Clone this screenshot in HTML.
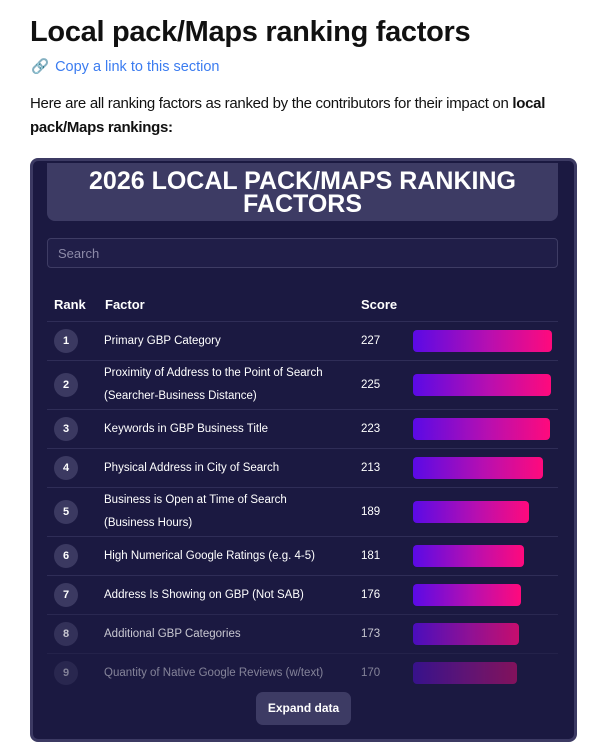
<!DOCTYPE html>
<html><head><meta charset="utf-8">
<style>
*{box-sizing:border-box;margin:0;padding:0}
body{width:600px;height:749px;background:#fff;font-family:"Liberation Sans",sans-serif;position:relative;overflow:hidden}
h1{position:absolute;left:30px;top:16px;font-size:29px;font-weight:bold;color:#111;letter-spacing:-0.3px}
.link{position:absolute;left:31px;top:58px;font-size:14.5px;color:#3b7cf0}
.link span{color:#b9a9c9;margin-right:6px}
.para{position:absolute;left:30px;top:92px;width:548px;font-size:15px;line-height:24px;color:#111;letter-spacing:-0.3px}
.card{position:absolute;left:30px;top:158px;width:547px;height:584px;background:#1b1941;border:3px solid #3c3a63;border-radius:8px}
.hdr{position:absolute;left:14px;top:2px;width:511px;height:58px;background:#3d3b64;border-radius:0 0 8px 8px;color:#fff;font-weight:bold;font-size:25px;line-height:23px;text-align:center;padding-top:7px;letter-spacing:0px}
.search{position:absolute;left:14px;top:77px;width:511px;height:30px;border:1px solid #3e3c64;border-radius:4px;background:#201e48;color:#8c8aa8;font-size:13px;padding:7px 10px}
.th{position:absolute;top:136px;color:#fff;font-weight:bold;font-size:13px}
#rows{position:absolute;left:14px;top:160px;width:511px}
.row{display:flex;align-items:center;min-height:39px;border-top:1px solid #2f2d57;color:#fff;font-size:11.5px;line-height:23px;position:relative}
.rk{position:absolute;left:7px;width:24px;height:24px;border-radius:50%;background:#3b3961;text-align:center;line-height:24px;font-weight:bold;font-size:11px}
.fc{margin-left:57px;width:235px;padding:1px 0}
.sc{position:absolute;left:314px}
.bar{position:absolute;left:366px;height:22px;border-radius:4px;background:linear-gradient(90deg,#5a0ae6,#b80fb0 55%,#ff0a7c)}
.btn{position:absolute;left:223px;top:531px;width:95px;height:33px;background:#3d3b64;border-radius:7px;color:#fff;font-weight:bold;font-size:12px;text-align:center;line-height:33px}
</style></head><body>
<h1>Local pack/Maps ranking factors</h1>
<div class="link"><span>🔗</span>Copy a link to this section</div>
<div class="para">Here are all ranking factors as ranked by the contributors for their impact on <b>local pack/Maps rankings:</b></div>
<div class="card">
<div class="hdr">2026 LOCAL PACK/MAPS RANKING<br>FACTORS</div>
<div class="search">Search</div>
<div class="th" style="left:21px">Rank</div>
<div class="th" style="left:72px">Factor</div>
<div class="th" style="left:328px">Score</div>
<div id="rows"></div>
<div class="btn">Expand data</div>
</div>
<script>
const factors=["Primary GBP Category","Proximity of Address to the Point of Search (Searcher-Business Distance)","Keywords in GBP Business Title","Physical Address in City of Search","Business is Open at Time of Search (Business Hours)","High Numerical Google Ratings (e.g. 4-5)","Address Is Showing on GBP (Not SAB)","Additional GBP Categories","Quantity of Native Google Reviews (w/text)"];
const scores=[227,225,223,213,189,181,176,173,170];
const opacities=[1,1,1,1,1,1,1,0.75,0.45];
const maxScore=227, maxW=139;
const xw=v=>v/maxScore*maxW;
const rows=document.getElementById('rows');
factors.forEach((f,i)=>{
 const r=document.createElement('div');r.className='row';r.style.opacity=opacities[i];
 
 
 r.innerHTML='<div class="rk">'+(i+1)+'</div><div class="fc">'+f+'</div><div class="sc">'+scores[i]+'</div>';
 const b=document.createElement('div');b.className='bar';b.style.width=xw(scores[i])+'px';
 
 
 r.appendChild(b);rows.appendChild(r);
});
</script>
</body></html>
